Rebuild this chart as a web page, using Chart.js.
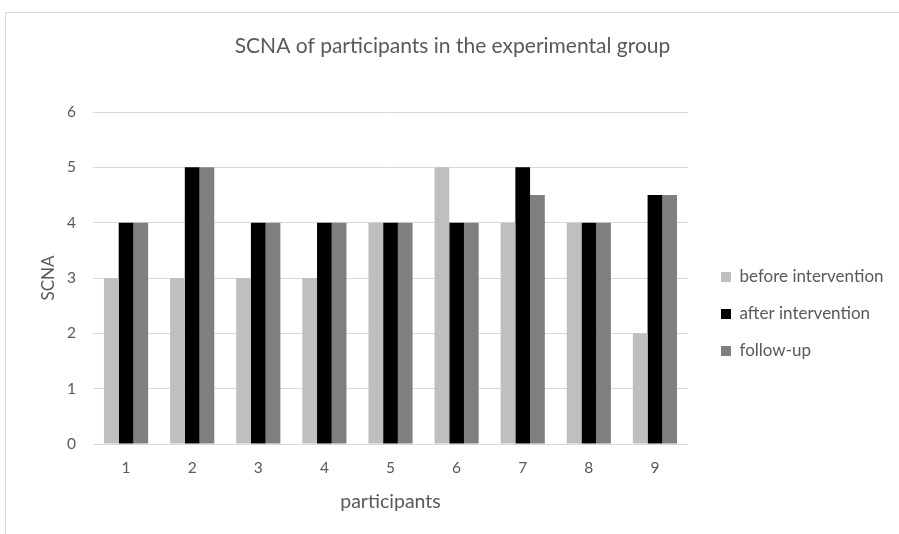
<!DOCTYPE html>
<html>
<head>
<meta charset="utf-8">
<script src="https://cdn.jsdelivr.net/npm/chart.js@4/dist/chart.umd.min.js"></script>
<style>
html,body{margin:0;padding:0;background:#fff;}
#wrap{width:899px;height:534px;position:relative;}
</style>
</head>
<body>
<div id="wrap"><canvas id="c" width="899" height="534"></canvas></div>
<script>
const categories = ['1','2','3','4','5','6','7','8','9'];
const seriesNames = ['before intervention','after intervention','follow-up'];
const beforeIntervention = [3,3,3,3,4,5,4,4,2];
const afterIntervention = [4,5,4,4,4,4,5,4,4.5];
const followUp = [4,5,4,4,4,4,4.5,4,4.5];
const seriesColors = ['#bfbfbf','#000000','#7f7f7f'];
const yTicks = [0,1,2,3,4,5,6];

const FONT = 'Lato';
const TEXT = '#595959';
const GRID = '#d9d9d9';

const L = {padL: 14, padR: 8};
const yTitleSize = 17;

const framePlugin = {
  id: 'frame',
  beforeDraw(chart) {
    const ctx = chart.ctx;
    ctx.save();
    ctx.fillStyle = '#fff';
    ctx.fillRect(0, 0, chart.width, chart.height);
    ctx.strokeStyle = GRID;
    ctx.lineWidth = 1;
    ctx.strokeRect(5.5, 12.5, chart.width + 20, chart.height + 20);
    ctx.restore();
  }
};

const chart = new Chart(document.getElementById('c'), {
  type: 'bar',
  data: {
    labels: categories,
    datasets: [
      {label: seriesNames[0], data: beforeIntervention, backgroundColor: seriesColors[0]},
      {label: seriesNames[1], data: afterIntervention, backgroundColor: seriesColors[1]},
      {label: seriesNames[2], data: followUp, backgroundColor: seriesColors[2]}
    ]
  },
  options: {
    responsive: false,
    animation: false,
    devicePixelRatio: 1,
    categoryPercentage: 0.668,
    barPercentage: 1,
    layout: {padding: {left: L.padL, right: L.padR, top: 0, bottom: 0}},
    plugins: {
      tooltip: {enabled: false},
      title: {
        display: true,
        text: 'SCNA of participants in the experimental group',
        color: TEXT,
        font: {family: FONT, size: 21, weight: 'normal'},
        padding: {top: 34, bottom: 52.8}
      },
      legend: {
        position: 'right',
        align: 'start',
        maxWidth: 260,
        title: {display: true, text: ' ', font: {family: FONT, size: 10}, padding: {top: 0, bottom: 236.5}},
        labels: {
          color: TEXT,
          font: {family: FONT, size: 17},
          boxWidth: 10,
          boxHeight: 10,
          padding: 20
        }
      }
    },
    scales: {
      x: {
        grid: {display: false},
        border: {display: false},
        ticks: {color: TEXT, font: {family: FONT, size: 15.5}, padding: 7},
        title: {display: true, text: 'participants', color: TEXT, font: {family: FONT, size: 19.5}, padding: {top: 0, bottom: 21}},
        afterFit(s) { s.height = 90; }
      },
      y: {
        min: 0, max: 6,
        afterBuildTicks(s) { s.ticks = yTicks.map(v => ({value: v})); },
        grid: {color: GRID, drawTicks: false, lineWidth: 1},
        border: {display: false},
        ticks: {color: TEXT, font: {family: FONT, size: 15.5}, padding: 17},
        title: {display: true, text: 'SCNA', color: TEXT, font: {family: FONT, size: yTitleSize}, padding: {top: 12, bottom: 0}},
        afterFit(s) { s.width = 93 - L.padL; }
      },
      y2: {
        position: 'right',
        display: true,
        grid: {display: false},
        border: {display: false},
        ticks: {display: false},
        afterFit(s) { s.width = 13; }
      }
    }
  },
  plugins: [framePlugin]
});

// calibrate outer padding so the plot area spans the reference's frame
function calibrate() {
  const dr = chart.chartArea.right - 688;
  L.padR = Math.max(0, L.padR + dr);
  L.padL = L.padR + 6;
  const o = chart.options;
  o.layout.padding.left = L.padL;
  o.layout.padding.right = L.padR;
  o.scales.y.title.padding.top = 49 - L.padL - yTitleSize * 1.2 / 2;
  chart.update();
}
calibrate();
calibrate();
</script>
</body>
</html>
